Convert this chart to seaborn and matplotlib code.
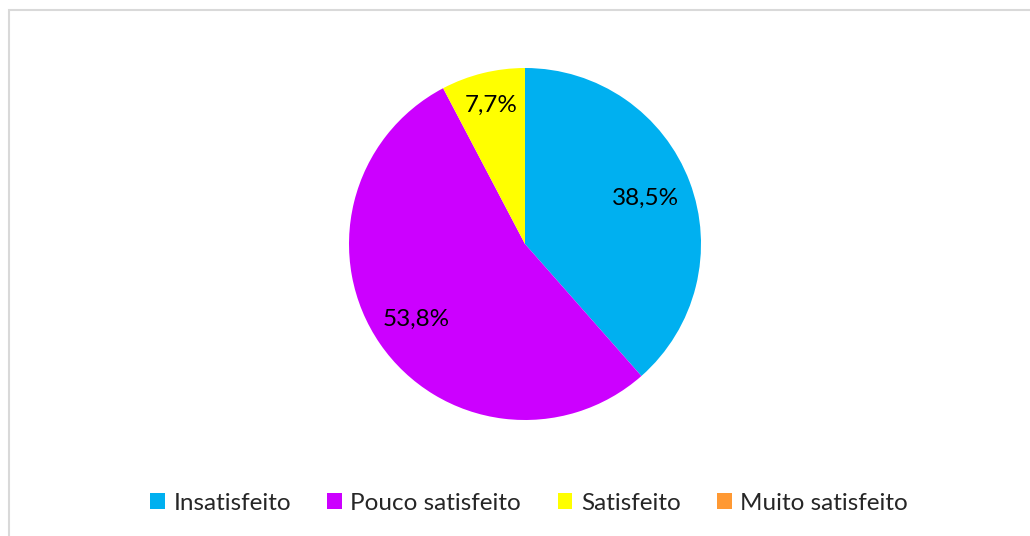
import numpy as np
import matplotlib
matplotlib.use("Agg")
import matplotlib.pyplot as plt
import seaborn as sns
from matplotlib.patches import Patch, Rectangle

sns.set_theme(style="white")
plt.rcParams['font.family'] = ['Lato', 'DejaVu Sans']

categories = ["Insatisfeito", "Pouco satisfeito", "Satisfeito", "Muito satisfeito"]
values = [38.5, 53.8, 7.7, 0.0]
colors = ["#00B0F0", "#CC00FF", "#FFFF00", "#FF9933"]

fig = plt.figure(figsize=(10.3, 5.36), dpi=100)
fig.patch.set_facecolor("white")

# light frame (only left/top visible in reference)
fig.add_artist(Rectangle((8.5 / 1030, -0.01), 1.1, (536 - 9.5) / 536 + 0.01,
                         transform=fig.transFigure, fill=False,
                         edgecolor="#D9D9D9", linewidth=1.5))

ax = fig.add_axes([349 / 1030, (536 - 420) / 536, 352 / 1030, 352 / 536])
wedges, _ = ax.pie(values, colors=colors, startangle=90, counterclock=False,
                   radius=1.0, wedgeprops=dict(linewidth=0))
ax.set_xlim(-1, 1)
ax.set_ylim(-1, 1)
ax.set_aspect("equal")
ax.axis("off")

dists = [0.73, 0.75, 0.81, 0.75]
for w, v, d in zip(wedges, values, dists):
    if v <= 0:
        continue
    ang = np.deg2rad((w.theta1 + w.theta2) / 2)
    ax.text(d * np.cos(ang), d * np.sin(ang), f"{v:.1f}".replace(".", ",") + "%",
            ha="center", va="center", fontsize=17.5, color="black")

handles = [Patch(facecolor=c, edgecolor="none", label=l) for c, l in zip(colors, categories)]
fig.legend(handles=handles, loc="center", bbox_to_anchor=(529 / 1030, 1 - 503 / 536),
           ncol=4, frameon=False, fontsize=17.5, handlelength=0.6, handleheight=0.6,
           handletextpad=0.35, columnspacing=1.5)

fig.savefig("out.png", dpi=100, facecolor="white")
